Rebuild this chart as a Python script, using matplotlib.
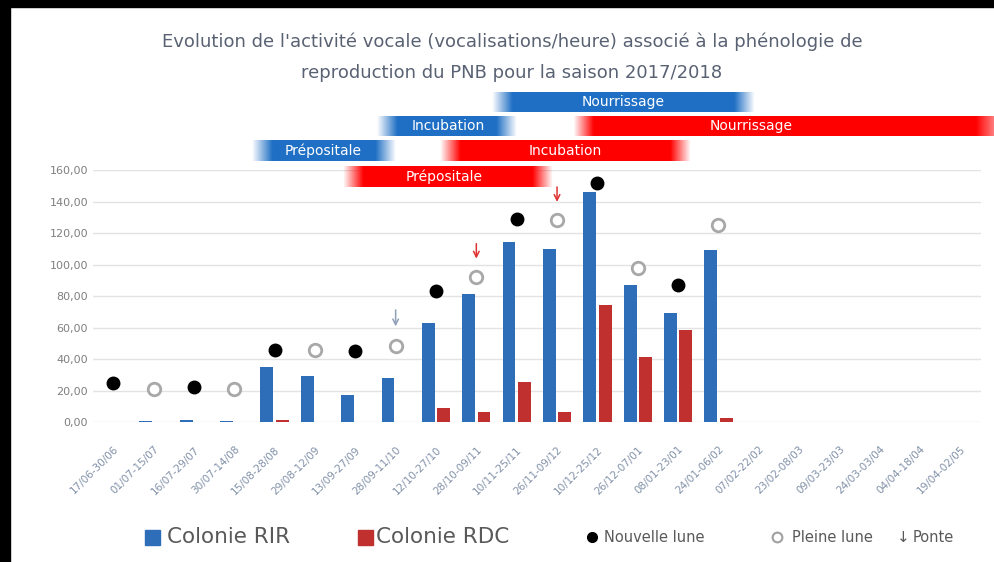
import numpy as np
import matplotlib.pyplot as plt
from matplotlib.patches import Rectangle
from matplotlib.colors import to_rgb

# Données
periodes = ["17/06-30/06", "01/07-15/07", "16/07-29/07", "30/07-14/08", "15/08-28/08",
            "29/08-12/09", "13/09-27/09", "28/09-11/10", "12/10-27/10", "28/10-09/11",
            "10/11-25/11", "26/11-09/12", "10/12-25/12", "26/12-07/01", "08/01-23/01",
            "24/01-06/02", "07/02-22/02", "23/02-08/03", "09/03-23/03", "24/03-03/04",
            "04/04-18/04", "19/04-02/05"]
rir = [0, 0.8, 1.0, 0.6, 35, 29, 17, 28, 63, 81, 114, 110, 146, 87, 69, 109,
       0, 0, 0, 0, 0, 0]
rdc = [0, 0, 0, 0, 1.5, 0, 0, 0, 9, 6.5, 25.5, 6.5, 74.5, 41.5, 58.5, 2.5,
       0, 0, 0, 0, 0, 0]

# Lunes : indice de période, hauteur
nouvelle_idx = [0, 2, 4, 6, 8, 10, 12, 14]
nouvelle_val = [25, 22, 46, 45, 83, 129, 152, 87]
pleine_idx = [1, 3, 5, 7, 9, 11, 13, 15]
pleine_val = [21, 21, 46, 48, 92, 128, 98, 125]

# Ponte : indice, haut et bas de la flèche, couleur
ponte_idx = [7, 9, 11]
ponte_haut = [73, 115, 151]
ponte_bas = [59, 102, 138]
ponte_coul = ['#8EA0B8', '#E03030', '#E03030']

# Phases de reproduction
phases_lbl = ["Nourrissage", "Incubation", "Nourrissage", "Prépositale", "Incubation", "Prépositale"]
phases_deb = [9.4, 6.55, 11.4, 3.45, 8.1, 5.7]
phases_fin = [15.9, 10.0, 22.3, 7.0, 14.3, 10.9]
phases_bas = [197, 181.5, 181.5, 165.5, 165.5, 149.5]
phases_haut = [209.5, 194, 194, 178.5, 178.5, 162.5]
phases_txt = [12.65, 8.3, 15.8, 5.2, 11.2, 8.2]
phases_coul = ['#1F6FC5', '#1F6FC5', '#FF0000', '#1F6FC5', '#FF0000', '#FF0000']

bleu = '#2E6DB8'
rouge = '#C0302F'
gris = '#7F7F7F'

plt.rcParams['font.family'] = ['Liberation Sans Narrow', 'DejaVu Sans']

fig = plt.figure(figsize=(9.94, 5.62), dpi=100)
ax = fig.add_axes([0.0936, 0.249, 0.893, 0.4485])

x = np.arange(len(periodes))
w = 0.32
ax.bar(x - 0.19, rir, width=w, color=bleu, zorder=2)
ax.bar(x + 0.19, rdc, width=w, color=rouge, zorder=2)

ax.plot(nouvelle_idx, nouvelle_val, 'o', color='black', markersize=9, linestyle='none', zorder=3)
ax.plot(pleine_idx, pleine_val, 'o', markerfacecolor='white', markeredgecolor='#A8A8A8',
        markeredgewidth=2, markersize=9, linestyle='none', zorder=3)

for i, h, b, c in zip(ponte_idx, ponte_haut, ponte_bas, ponte_coul):
    ax.annotate('', xy=(i, b), xytext=(i, h),
                arrowprops=dict(arrowstyle='->', color=c, lw=1.1))

# Bandeaux des phases, bords estompés
for lbl, d, f, b, h, c, t in zip(phases_lbl, phases_deb, phases_fin, phases_bas,
                                 phases_haut, phases_coul, phases_txt):
    n = 400
    u = np.linspace(0, 1, n) * (f - d)
    alpha = np.clip(np.minimum(u / 0.5, ((f - d) - u) / (0.9 if f > 20 else 0.5)), 0, 1)
    img = np.zeros((1, n, 4))
    img[0, :, :3] = to_rgb(c)
    img[0, :, 3] = alpha
    ax.imshow(img, extent=(d, f, b, h), aspect='auto', clip_on=False, zorder=4,
              interpolation='bilinear')
    ax.text(t, (b + h) / 2, lbl, color='white', ha='center', va='center',
            fontsize=10, clip_on=False, zorder=5)

ax.set_xlim(-0.5, len(periodes) - 0.5)
ax.set_ylim(0, 160)
ax.set_yticks(np.arange(0, 161, 20))
ax.set_yticklabels([f"{v:.2f}".replace('.', ',') for v in np.arange(0, 161, 20)],
                   color=gris, fontsize=8)
ax.set_xticks(x)
ax.set_xticklabels(periodes, rotation=45, ha='right', rotation_mode='anchor',
                   color='#8090A8', fontsize=7.5)
ax.tick_params(length=0, axis='both')
ax.tick_params(axis='x', pad=16)
ax.grid(axis='y', color='#E3E3E3', lw=1, zorder=0)
for s in ax.spines.values():
    s.set_visible(False)

fig.text(0.515, 0.925, "Evolution de l'activité vocale (vocalisations/heure) associé à la phénologie de",
         ha='center', va='center', fontsize=13, color='#596273')
fig.text(0.515, 0.87, "reproduction du PNB pour la saison 2017/2018",
         ha='center', va='center', fontsize=13, color='#596273')

# Légende
ly = 1 - 537 / 562
fig.patches.append(Rectangle((145 / 994, ly - 0.014), 15 / 994, 0.027, color=bleu, transform=fig.transFigure))
fig.text(167 / 994, ly, "Colonie RIR", fontsize=15.5, color='#595959', va='center')
fig.patches.append(Rectangle((358 / 994, ly - 0.014), 15 / 994, 0.027, color=rouge, transform=fig.transFigure))
fig.text(376 / 994, ly, "Colonie RDC", fontsize=15.5, color='#595959', va='center')
fig.lines.append(plt.Line2D([592 / 994], [ly], marker='o', color='black', markersize=7,
                            transform=fig.transFigure))
fig.text(604 / 994, ly, "Nouvelle lune", fontsize=10.5, color='#595959', va='center')
fig.lines.append(plt.Line2D([777 / 994], [ly], marker='o', markerfacecolor='white',
                            markeredgecolor='#A0A0A0', markeredgewidth=1.5, markersize=7,
                            transform=fig.transFigure))
fig.text(792 / 994, ly, "Pleine lune", fontsize=10.5, color='#595959', va='center')
fig.text(897 / 994, ly, "↓", fontsize=11, color='#595959', va='center')
fig.text(913 / 994, ly, "Ponte", fontsize=10.5, color='#595959', va='center')

# Bordure noire
fig.patches.append(Rectangle((0, 0), 10 / 994, 1, color='black', transform=fig.transFigure))
fig.patches.append(Rectangle((0, 1 - 7 / 562), 1, 7 / 562, color='black', transform=fig.transFigure))

fig.savefig('out.png', dpi=100)
